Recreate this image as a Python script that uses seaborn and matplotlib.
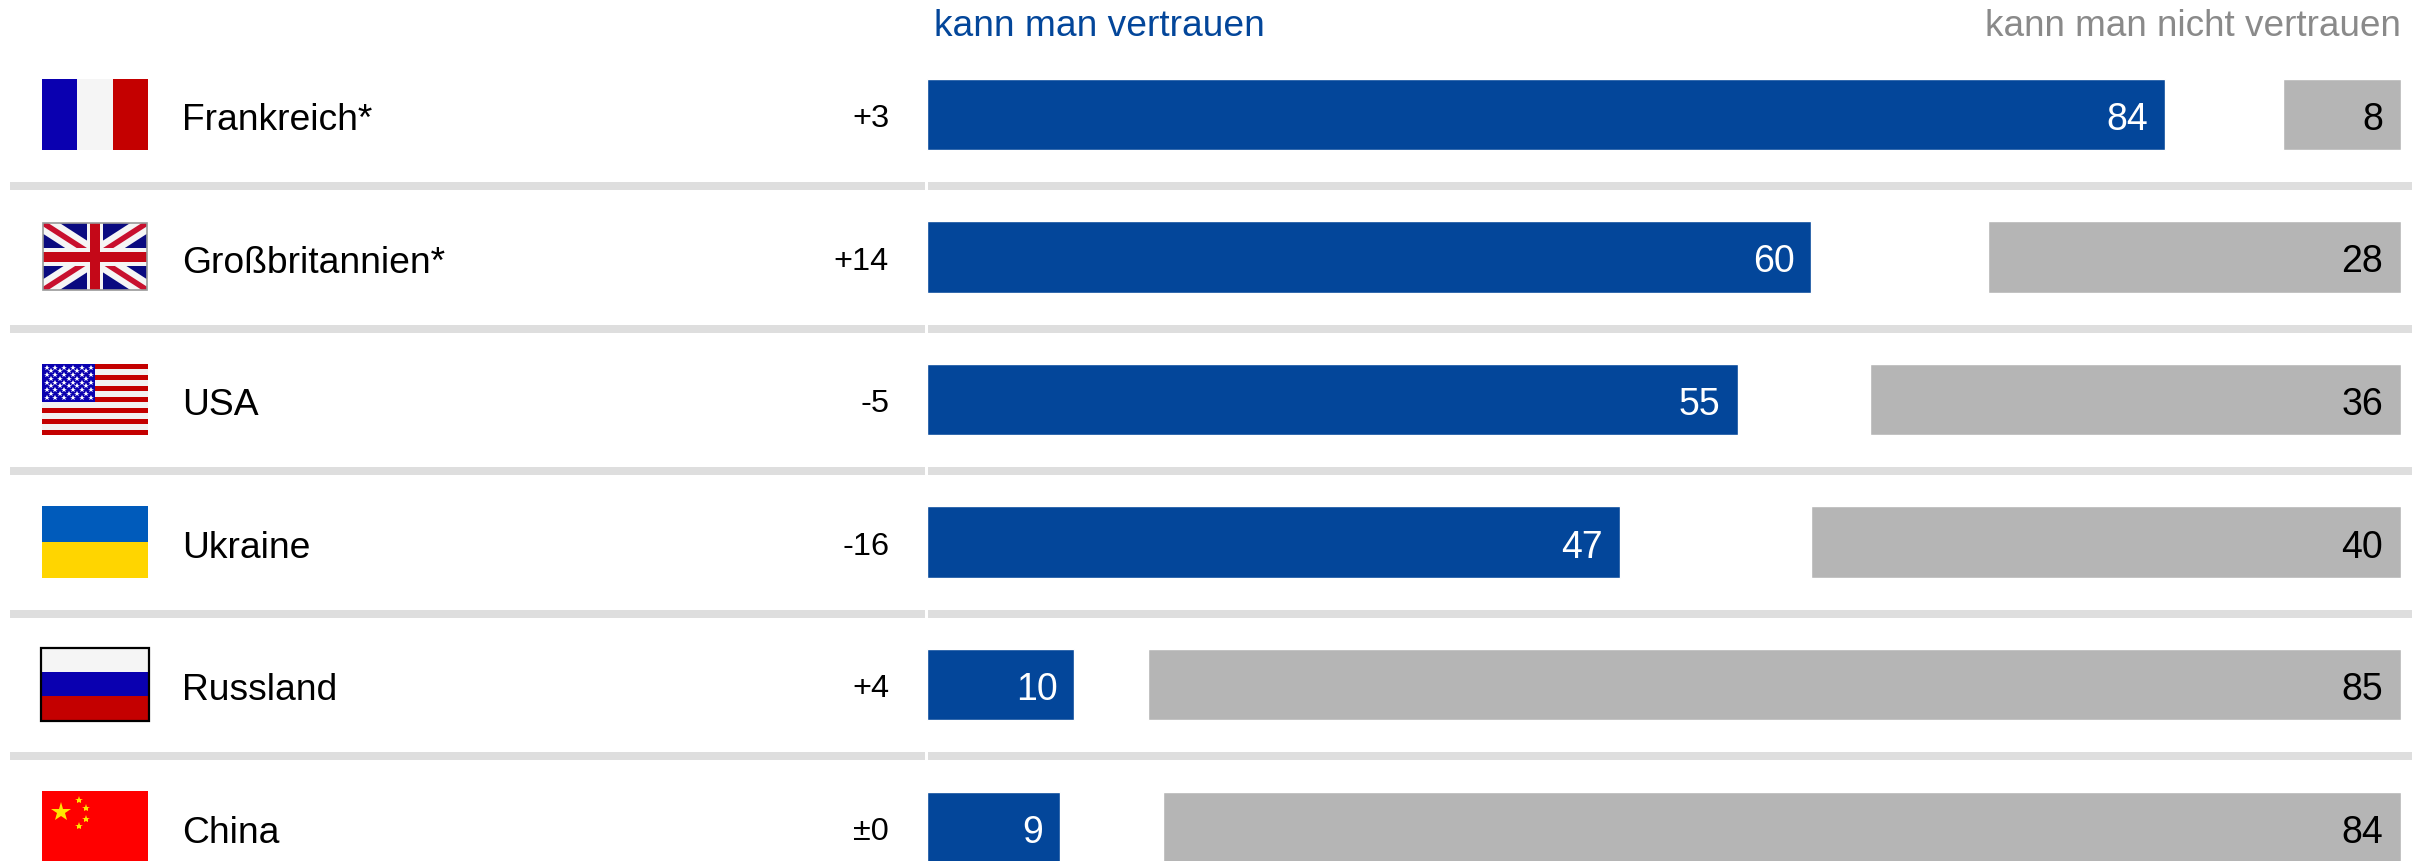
import pandas as pd
import numpy as np
import matplotlib.pyplot as plt
from matplotlib.patches import Rectangle
import seaborn as sns

countries = ['Frankreich*', 'Großbritannien*', 'USA', 'Ukraine', 'Russland', 'China']
changes = ['+3', '+14', '-5', '-16', '+4', '±0']
trust = [84, 60, 55, 47, 10, 9]
no_trust = [8, 28, 36, 40, 85, 84]

BLUE = '#03469a'
GREY = '#b5b5b5'
W, H = 2430, 861
# pixel geometry of the rows
ROW_Y = 114.3
PITCH = 142.6
BAR_L, BAR_R = 927, 2401

sns.set_style('white')
plt.rcParams['font.family'] = ['Liberation Sans', 'DejaVu Sans']


def rect(ax, x0, y0, x1, y1, color, **kw):
    p = Rectangle((x0, y0), x1 - x0, y1 - y0, facecolor=color, edgecolor='none', **kw)
    ax.add_patch(p)
    return p


def flag_france(ax):
    rect(ax, 42, 79, 77, 150, '#0a00b0')
    rect(ax, 77, 79, 113, 150, '#f5f5f5')
    rect(ax, 113, 79, 148, 150, '#c40000')


def flag_uk(ax):
    x0, x1, y0, y1 = 43, 147, 223, 290
    clip = rect(ax, x0, y0, x1, y1, '#0a0a80', zorder=1)
    for (xa, ya, xb, yb) in [(x0, y0, x1, y1), (x0, y1, x1, y0)]:
        for lw, col in [(13, '#f5f5f5'), (4, '#c8102e')]:
            line, = ax.plot([xa, xb], [ya, yb], color=col, lw=lw, solid_capstyle='butt', zorder=1.1)
            line.set_clip_path(clip)
    rect(ax, 87, y0, 103, y1, '#f5f5f5', zorder=1.2)
    rect(ax, x0, 248, x1, 266, '#f5f5f5', zorder=1.2)
    rect(ax, 90, y0, 100, y1, '#c40818', zorder=1.3)
    rect(ax, x0, 252, x1, 262, '#c40818', zorder=1.3)
    ax.add_patch(Rectangle((x0, y0), x1 - x0, y1 - y0, fill=False, edgecolor='#999999', lw=1.2, zorder=1.4))


def flag_usa(ax):
    y0, y1 = 364, 435
    h = (y1 - y0) / 13
    for i in range(13):
        rect(ax, 42, y0 + i * h, 148, y0 + (i + 1) * h, '#c40000' if i % 2 == 0 else '#f2f2f2')
    rect(ax, 42, y0, 95, y0 + 7 * h, '#0a00b0')
    for r in range(9):
        n = 6 if r % 2 == 0 else 5
        off = 0 if r % 2 == 0 else 4.4
        for c in range(n):
            ax.plot(46.5 + off + c * 8.8, y0 + 3.5 + r * 3.75, marker='*', ms=4.2,
                    color='white', mew=0)


def flag_ukraine(ax):
    rect(ax, 42, 506, 148, 542, '#005bbb')
    rect(ax, 42, 542, 148, 578, '#ffd500')


def flag_russia(ax):
    rect(ax, 42, 649, 148, 672, '#f5f5f5')
    rect(ax, 42, 672, 148, 696, '#0a00b0')
    rect(ax, 42, 696, 148, 720, '#c40000')
    ax.add_patch(Rectangle((41, 648), 108, 73, fill=False, edgecolor='black', lw=1.6))


def flag_china(ax):
    rect(ax, 42, 791, 148, 861, '#ff0000')
    ax.plot(61, 812, marker='*', ms=15, color='#ffe600', mew=0)
    for sx, sy in [(79, 800), (86, 808), (86, 819), (79, 826)]:
        ax.plot(sx, sy, marker='*', ms=6, color='#ffe600', mew=0)


df = pd.DataFrame({'land': countries, 'vertrauen': trust, 'nicht': no_trust})

fig = plt.figure(figsize=(W / 100, H / 100), dpi=100, facecolor='white')

# overlay in pixel coordinates for rules, flags and row text
ov = fig.add_axes([0, 0, 1, 1])
ov.set_xlim(0, W)
ov.set_ylim(H, 0)
ov.axis('off')

for i in range(5):
    y = 186 + PITCH * i
    rect(ov, 10, y - 4, 925, y + 4, '#dedede')
    rect(ov, 928, y - 4, 2412, y + 4, '#dedede')

for draw in [flag_france, flag_uk, flag_usa, flag_ukraine, flag_russia, flag_china]:
    draw(ov)
ov.set_xlim(0, W)
ov.set_ylim(H, 0)

for i, (name, chg) in enumerate(zip(countries, changes)):
    base = 130 + PITCH * i
    ov.text(182, base, name, fontsize=26.8, va='baseline', ha='left', color='black')
    ov.text(889, base - 3, chg, fontsize=23.4, va='baseline', ha='right', color='black')

ov.text(934, 36, 'kann man vertrauen', fontsize=26.7, color=BLUE, va='baseline', ha='left')
ov.text(2401, 36, 'kann man nicht vertrauen', fontsize=26.6, color='#8a8a8a', va='baseline', ha='right')

# bars: both axes span 0-100 % over the same pixels, the grey one runs from the right
box = [BAR_L / W, 0, (BAR_R - BAR_L) / W, 1]
ylim = ((H - ROW_Y) / PITCH, -ROW_Y / PITCH)

ax1 = fig.add_axes(box, facecolor='none')
sns.barplot(data=df, x='vertrauen', y='land', color=BLUE, saturation=1, width=0.5, ax=ax1)
ax1.set_xlim(0, 100)
ax1.set_ylim(*ylim)
ax1.axis('off')

ax2 = fig.add_axes(box, facecolor='none')
sns.barplot(data=df, x='nicht', y='land', color=GREY, saturation=1, width=0.5, ax=ax2)
ax2.set_xlim(100, 0)
ax2.set_ylim(*ylim)
ax2.axis('off')

for i in range(len(countries)):
    ax1.annotate(str(trust[i]), (trust[i], i), xytext=(-17, -15.5), textcoords='offset pixels',
                 ha='right', va='baseline', fontsize=27, color='white')
    ax2.annotate(str(no_trust[i]), (0, i), xytext=(-18, -15.5), textcoords='offset pixels',
                 ha='right', va='baseline', fontsize=27, color='black')

fig.savefig('out.png', dpi=100)
